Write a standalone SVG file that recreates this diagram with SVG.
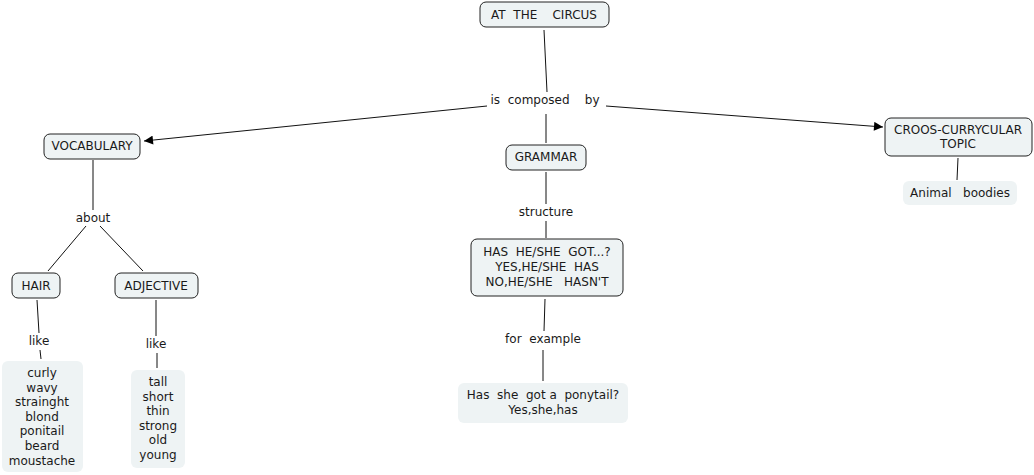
<svg xmlns="http://www.w3.org/2000/svg" width="1034" height="475" viewBox="0 0 1034 475">
<style>
text{font-family:"DejaVu Sans",Verdana,sans-serif;font-size:12px;fill:#1a1a1a;text-anchor:middle;white-space:pre}
.n{fill:#eef3f4;stroke:#222;stroke-width:1}
.f{fill:#eef3f4;stroke:none}
.c line{stroke:#111;stroke-width:1}
</style>
<defs>
<marker id="ah" viewBox="0 0 10 10" refX="10" refY="5" markerWidth="10" markerHeight="9" markerUnits="userSpaceOnUse" orient="auto">
<path d="M0,0 L10,5 L0,10 z" fill="#000"/>
</marker>
</defs>
<rect width="1034" height="475" fill="#fff"/>
<g class="c">
<line x1="544" y1="30" x2="547" y2="92"/>
<line x1="487" y1="106" x2="144" y2="141" marker-end="url(#ah)"/>
<line x1="546" y1="114" x2="546" y2="143"/>
<line x1="606" y1="106" x2="883" y2="127" marker-end="url(#ah)"/>
<line x1="93" y1="160" x2="93" y2="210"/>
<line x1="86" y1="226" x2="48" y2="271"/>
<line x1="100" y1="226" x2="143" y2="271"/>
<line x1="37" y1="300" x2="39" y2="333"/>
<line x1="40" y1="350" x2="41" y2="359"/>
<line x1="156" y1="300" x2="156" y2="336"/>
<line x1="157" y1="353" x2="157" y2="368"/>
<line x1="546" y1="172" x2="546" y2="204"/>
<line x1="546" y1="221" x2="546" y2="238"/>
<line x1="545" y1="299" x2="544" y2="331"/>
<line x1="543" y1="350" x2="543" y2="381"/>
<line x1="958" y1="158" x2="957" y2="180"/>
</g>
<g id="lbl-composed"><text x="545" y="104">is  composed    by</text></g>
<g id="lbl-about"><text x="93" y="222">about</text></g>
<g id="lbl-like1"><text x="39" y="345">like</text></g>
<g id="lbl-like2"><text x="156" y="348">like</text></g>
<g id="lbl-structure"><text x="546" y="216">structure</text></g>
<g id="lbl-example"><text x="543" y="343">for  example</text></g>
<g id="circus"><rect class="n" x="480" y="2" width="129" height="25" rx="6"/><text x="544" y="19">AT  THE    CIRCUS</text></g>
<g id="vocabulary"><rect class="n" x="44" y="134" width="96" height="25" rx="6"/><text x="92" y="150">VOCABULARY</text></g>
<g id="grammar"><rect class="n" x="506" y="145" width="80" height="25" rx="6"/><text x="546" y="161">GRAMMAR</text></g>
<g id="croos"><rect class="n" x="885" y="118" width="147" height="38" rx="6"/><text x="958" y="134">CROOS-CURRYCULAR</text><text x="958" y="148">TOPIC</text></g>
<g id="animal"><rect class="f" x="903" y="181" width="114" height="24" rx="6"/><text x="960" y="197">Animal   boodies</text></g>
<g id="hair"><rect class="n" x="12" y="273" width="48" height="25" rx="6"/><text x="36" y="290">HAIR</text></g>
<g id="adjective"><rect class="n" x="115" y="273" width="83" height="25" rx="6"/><text x="156" y="290">ADJECTIVE</text></g>
<g id="has"><rect class="n" x="471" y="239" width="152" height="57" rx="6"/><text x="547" y="256">HAS  HE/SHE  GOT...?</text><text x="547" y="271">YES,HE/SHE  HAS</text><text x="547" y="286">NO,HE/SHE   HASN'T</text></g>
<g id="ponytail"><rect class="f" x="458" y="383" width="170" height="40" rx="6"/><text x="543" y="399">Has  she  got a  ponytail?</text><text x="543" y="414">Yes,she,has</text></g>
<g id="hairlist"><rect class="f" x="2" y="361" width="81" height="111" rx="6"/>
<text x="42" y="377">curly</text><text x="42" y="392">wavy</text><text x="42" y="406">strainght</text><text x="42" y="421">blond</text><text x="42" y="435">ponitail</text><text x="42" y="450">beard</text><text x="42" y="465">moustache</text></g>
<g id="adjlist"><rect class="f" x="131" y="370" width="54" height="98" rx="6"/>
<text x="158" y="386">tall</text><text x="158" y="401">short</text><text x="158" y="415">thin</text><text x="158" y="430">strong</text><text x="158" y="444">old</text><text x="158" y="459">young</text></g>
</svg>
